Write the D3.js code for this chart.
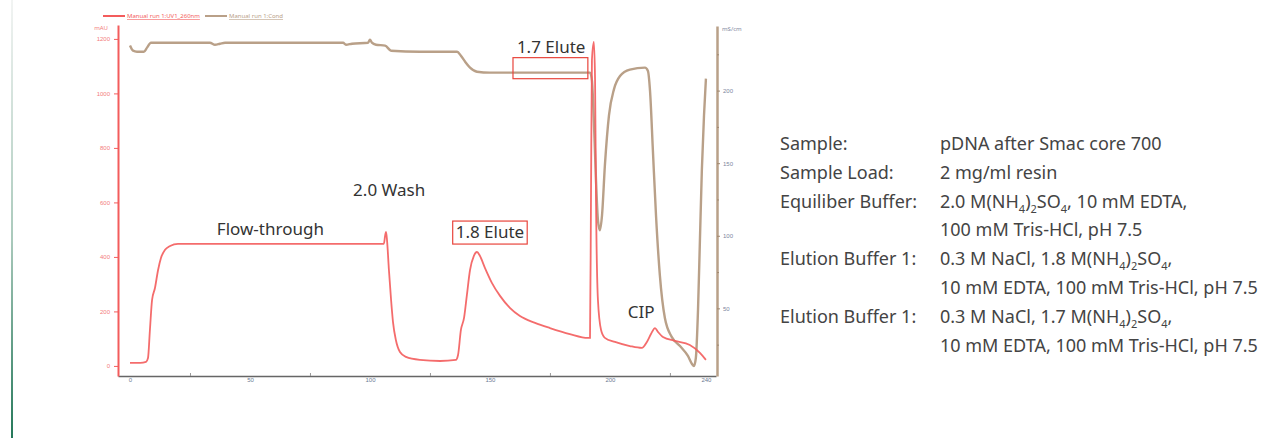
<!DOCTYPE html>
<html>
<head>
<meta charset="utf-8">
<script src="https://cdn.jsdelivr.net/npm/d3@7"></script>
<style>
  body { margin: 0; background: #fff; }
  svg { display: block; font-family: "Noto Sans", sans-serif; }
  .tick text { font-size: 6px; }
</style>
</head>
<body>
<div id="chart"></div>
<script>
// UV 260nm trace (mAU) vs volume
const uvVolume = [0, 4.2, 6.7, 7.5, 8.3, 9.2, 10.4, 11.7, 12.9, 14.6, 16.7, 20, 50, 105.8, 106.3, 106.7, 107.1, 107.9, 108.8, 109.6, 110.8, 112.5, 115, 120.8, 129.2, 135.8, 136.7, 137.9, 139.2, 140.4, 141.7, 143.3, 144.6, 145.8, 147.9, 150.8, 154.2, 158.3, 162.5, 168.8, 175, 183.3, 190.8, 191.7, 192.1, 192.5, 193.3, 193.8, 194.2, 195, 196.3, 197.9, 202.1, 208.3, 213.3, 215.4, 217.1, 218.8, 220, 222.1, 227.1, 233.3, 237.5, 240];
const uvValue = [11, 11, 15, 29, 132, 242, 286, 352, 396, 426, 440, 448, 448, 448, 477, 492, 462, 352, 242, 161, 95, 51, 33, 22, 18, 22, 40, 132, 176, 261, 352, 404, 418, 404, 360, 305, 257, 213, 183, 158, 139, 117, 103, 103, 609, 1123, 1189, 1050, 609, 242, 132, 103, 88, 73, 66, 88, 117, 139, 125, 106, 92, 77, 48, 22];

// Conductivity trace (mS/cm) vs volume
const condVolume = [0, 1.25, 2.9, 5.8, 7.1, 8.75, 33.3, 35.4, 37.5, 39.6, 70.8, 88.8, 90, 92.5, 99.2, 100, 100.8, 102.5, 106.3, 108.8, 120.8, 136.3, 137.9, 139.6, 141.7, 144.6, 150, 191.7, 192.5, 193.3, 194.2, 195, 195.8, 196.7, 197.9, 199.6, 201.7, 204.2, 208.3, 214.6, 215.8, 216.7, 217.9, 219.2, 220.8, 222.9, 225.8, 229.2, 232.5, 234.2, 235, 235.8, 236.7, 237.5, 238.3, 239.2, 240];
const condValue = [231, 227.5, 226.8, 226.8, 229.6, 233, 233, 231.6, 232.3, 233, 233, 233, 231.6, 232.3, 233, 235, 233, 231.6, 231, 227.5, 226.8, 226.8, 224, 220, 215.8, 213, 212.4, 212.4, 207, 179, 138, 110.7, 103.8, 114, 148.5, 183, 201, 210, 214.4, 215.8, 213.7, 200, 158.8, 114, 72.9, 43.3, 30.2, 24, 17.2, 11.7, 10.3, 15.8, 48.8, 96.9, 145, 182.8, 208.2];

// Axis ticks
const volumeTicks = [0, 50, 100, 150, 200, 240];
const volumeMinor = [25, 75, 125, 175, 225];
const uvTicks = [0, 200, 400, 600, 800, 1000, 1200];
const condTicks = [50, 100, 150, 200];
const condMinor = [25, 75, 125, 175, 225];

// Peak annotations: [label, volume, uv value (label centre), boxed]
const annoLabels = ["Flow-through", "2.0 Wash", "1.8 Elute", "CIP"];
const annoVolume = [58.5, 108, 150, 213];
const annoUV = [502, 645, 491, 198];
const annoBoxed = [false, false, true, false];

// 1.7 Elute: label and box round the conductivity plateau
const eluteVol = [159.6, 190.8];
const eluteCond = [230, 222.7, 208.2];

// Run conditions
const infoKeys = ["Sample:", "Sample Load:", "Equiliber Buffer:", "", "Elution Buffer 1:", "", "Elution Buffer 1:", ""];
const infoValues = [
  "pDNA after Smac core 700",
  "2 mg/ml resin",
  "2.0 M(NH<sub>4</sub>)<sub>2</sub>SO<sub>4</sub>, 10 mM EDTA,",
  "100 mM Tris-HCl, pH 7.5",
  "0.3 M NaCl, 1.8 M(NH<sub>4</sub>)<sub>2</sub>SO<sub>4</sub>,",
  "10 mM EDTA, 100 mM Tris-HCl, pH 7.5",
  "0.3 M NaCl, 1.7 M(NH<sub>4</sub>)<sub>2</sub>SO<sub>4</sub>,",
  "10 mM EDTA, 100 mM Tris-HCl, pH 7.5"
];

const W = 1288, H = 438;
const red = "#f35c5c", brown = "#b9a088";

const svg = d3.select("#chart").append("svg").attr("width", W).attr("height", H);

// green page rule at left
const grad = svg.append("defs").append("linearGradient").attr("id", "rule")
  .attr("x1", 0).attr("y1", 0).attr("x2", 0).attr("y2", 1);
grad.append("stop").attr("offset", "0%").attr("stop-color", "#f2f4f3");
grad.append("stop").attr("offset", "55%").attr("stop-color", "#a9c9bb");
grad.append("stop").attr("offset", "100%").attr("stop-color", "#25785a");
svg.append("rect").attr("x", 11).attr("y", 0).attr("width", 2).attr("height", H).attr("fill", "url(#rule)");

// scales
const x = d3.scaleLinear().domain([-5, 244.2]).range([118, 716]);
const yUV = d3.scaleLinear().domain([-37, 1251]).range([376, 25]);
const yCond = d3.scaleLinear().domain([3.4, 244.5]).range([376, 26]);

// bottom axis
const gx = svg.append("g").attr("transform", "translate(0,376)")
  .call(d3.axisBottom(x).tickValues(volumeTicks).tickSize(0).tickPadding(2).tickSizeOuter(0));
gx.select(".domain").attr("stroke", "#666").attr("stroke-width", 1.6);
gx.selectAll(".tick text").attr("fill", "#6c7b94");
svg.append("g").attr("transform", "translate(0,376)")
  .call(d3.axisTop(x).tickValues(volumeMinor).tickSize(3).tickFormat("").tickSizeOuter(0))
  .call(g => g.select(".domain").remove())
  .selectAll("line").attr("stroke", "#999");

// left UV axis
const gl = svg.append("g").attr("transform", "translate(118,0)")
  .call(d3.axisLeft(yUV).tickValues(uvTicks).tickFormat(d3.format("d")).tickSize(4).tickPadding(4).tickSizeOuter(0));
gl.select(".domain").attr("stroke", red).attr("stroke-width", 2);
gl.selectAll(".tick line").attr("stroke", red);
gl.selectAll(".tick text").attr("fill", "#f37c7c");
svg.append("text").attr("x", 108).attr("y", 30).attr("text-anchor", "end")
  .attr("font-size", 6).attr("fill", "#f37c7c").text("mAU");

// right conductivity axis
const gr = svg.append("g").attr("transform", "translate(717,0)")
  .call(d3.axisRight(yCond).tickValues(condTicks).tickSize(3).tickPadding(3).tickSizeOuter(0));
gr.select(".domain").attr("stroke", brown).attr("stroke-width", 2.5);
gr.selectAll(".tick line").attr("stroke", "#a08870");
gr.selectAll(".tick text").attr("fill", "#7d86a0");
svg.append("g").attr("transform", "translate(717,0)")
  .call(d3.axisRight(yCond).tickValues(condMinor).tickSize(2).tickFormat("").tickSizeOuter(0))
  .call(g => g.select(".domain").remove())
  .selectAll("line").attr("stroke", "#a08870");
svg.append("text").attr("x", 722).attr("y", 31).attr("font-size", 6).attr("fill", "#7d86a0").text("mS/cm");

// traces
const condLine = d3.line().x((d, i) => x(condVolume[i])).y(d => yCond(d)).curve(d3.curveMonotoneX);
const uvLine = d3.line().x((d, i) => x(uvVolume[i])).y(d => yUV(d)).curve(d3.curveMonotoneX);

svg.append("path").datum(condValue).attr("d", condLine)
  .attr("fill", "none").attr("stroke", brown).attr("stroke-width", 2.4);
svg.append("path").datum(uvValue).attr("d", uvLine)
  .attr("fill", "none").attr("stroke", red).attr("stroke-width", 1.8).attr("opacity", 0.9);

// legend
const legend = [{ label: "Manual run 1:UV1_260nm", color: red, x: 103 }, { label: "Manual run 1:Cond", color: brown, x: 205 }];
legend.forEach(l => {
  svg.append("line").attr("x1", l.x).attr("x2", l.x + 22).attr("y1", 16).attr("y2", 16)
    .attr("stroke", l.color).attr("stroke-width", 2);
  svg.append("text").attr("x", l.x + 24).attr("y", 18).attr("font-size", 6)
    .attr("fill", l.color).attr("text-decoration", "underline").text(l.label);
});

// peak annotations
annoLabels.forEach((t, i) => {
  const tx = x(annoVolume[i]), ty = yUV(annoUV[i]);
  const txt = svg.append("text").attr("x", tx).attr("y", ty).attr("dy", "0.35em").attr("text-anchor", "middle")
    .attr("font-size", 17).attr("fill", "#333").text(t);
  if (annoBoxed[i]) {
    const b = txt.node().getBBox();
    svg.append("rect").attr("x", b.x - 3).attr("y", b.y + 1).attr("width", b.width + 6).attr("height", b.height)
      .attr("fill", "none").attr("stroke", "#e8453c").attr("stroke-width", 1.2);
  }
});

svg.append("text").attr("x", x(175.5)).attr("y", yCond(eluteCond[0])).attr("dy", "0.35em")
  .attr("text-anchor", "middle").attr("font-size", 17).attr("fill", "#333").text("1.7 Elute");
svg.append("rect").attr("x", x(eluteVol[0])).attr("y", yCond(eluteCond[1]))
  .attr("width", x(eluteVol[1]) - x(eluteVol[0])).attr("height", yCond(eluteCond[2]) - yCond(eluteCond[1]))
  .attr("fill", "none").attr("stroke", "#e8453c").attr("stroke-width", 1.2);

// run conditions text
const info = svg.append("g").attr("font-size", 18).attr("fill", "#444");
infoKeys.forEach((k, i) => {
  const y = 150 + i * 28.8;
  info.append("text").attr("x", 780).attr("y", y).text(k);
  const fo = info.append("foreignObject").attr("x", 940).attr("y", y - 20).attr("width", 345).attr("height", 28);
  fo.append("xhtml:div")
    .style("font", "18px 'Noto Sans', sans-serif").style("color", "#444").style("line-height", "26px")
    .style("white-space", "nowrap")
    .html(infoValues[i].replace(/<sub>/g, "<sub style='font-size:11px;line-height:0'>"));
});
</script>
</body>
</html>
